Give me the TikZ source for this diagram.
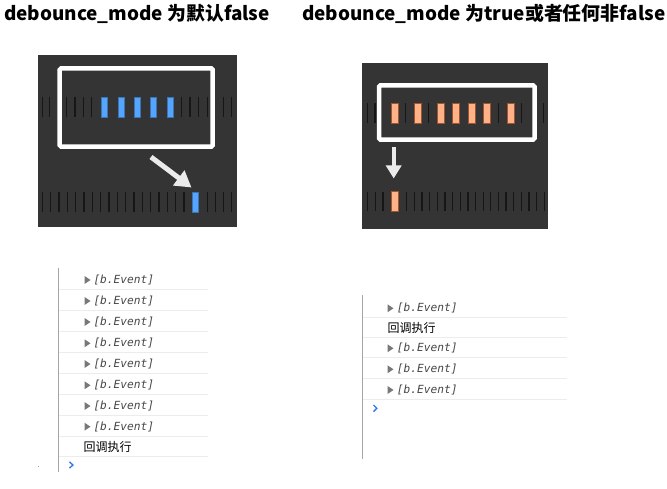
\documentclass[tikz,border=0pt]{standalone}
\usepackage{fontspec}
\usepackage{xcolor}
\usepackage{tikz}
\usetikzlibrary{arrows.meta,positioning}

\newfontfamily\cjkfont{Noto Sans CJK SC}
\newfontfamily\consolefont{DejaVu Sans Mono}

\definecolor{panelgray}{RGB}{52,52,52}
\definecolor{tickdark}{RGB}{22,22,22}
\definecolor{barblue}{RGB}{85,165,255}
\definecolor{barpeach}{RGB}{255,178,135}
\definecolor{peachedge}{RGB}{160,85,45}
\definecolor{sepgray}{RGB}{236,236,236}
\definecolor{railgray}{RGB}{165,165,165}
\definecolor{eventgray}{RGB}{70,70,70}
\definecolor{trigray}{RGB}{120,120,120}
\definecolor{promptblue}{RGB}{50,120,235}

\begin{document}
\begin{tikzpicture}[
  x=1pt,y=-1pt,
  title/.style={font=\cjkfont\bfseries\fontsize{18.9}{21}\selectfont,anchor=base west,inner sep=0pt},
  panel/.style={fill=panelgray},
  framebox/.style={draw=white,line width=4.5pt,rounded corners=1.5pt},
  tick/.style={draw=tickdark,line width=1.3pt},
  bluebar/.style={fill=barblue,draw=barblue!70!black,line width=0.5pt,minimum width=6pt,minimum height=20pt,inner sep=0pt},
  peachbar/.style={fill=barpeach,draw=peachedge,line width=0.5pt,minimum width=7pt,minimum height=20pt,inner sep=0pt},
  whitearrow/.style={draw=white!92!black,line width=4pt,-{Triangle[length=13pt,width=15pt]}},
  rail/.style={draw=railgray,line width=1.2pt},
  sep/.style={draw=sepgray,line width=1pt},
  event/.style={font=\consolefont\itshape\fontsize{11.2}{13}\selectfont,text=eventgray,anchor=west,inner sep=0pt},
  cbtext/.style={font=\cjkfont\fontsize{12}{14}\selectfont,anchor=west,inner sep=0pt},
  prompt/.style={draw=promptblue,line width=1.4pt}
]
\useasboundingbox (0,0) rectangle (667,489);
% titles
\node[title] (tleft) at (4,20.7) {debounce\_mode 为默认false};
\node[title] (tright) at (302,20.7) {debounce\_mode 为true或者任何非false};

% left timeline panel
\fill[panel] (38,55) rectangle (237,227);
\foreach \x in {42.3,49.5,66.7,75,83.3,91.7,181.7,190,198.3,207.7,223.3,231.7}
  \draw[tick] (\x,97) -- (\x,117);
\node[bluebar] (lb1) at (104.7,107) {};
\node[bluebar] (lb2) at (121,107) {};
\node[bluebar] (lb3) at (137.2,107) {};
\node[bluebar] (lb4) at (153.5,107) {};
\node[bluebar] (lb5) at (170.3,107) {};
\draw[framebox] (59.7,68.3) rectangle (212.7,146.7);
\foreach \k in {0,...,17}
  \draw[tick] (42.3+8.33*\k,192) -- (42.3+8.33*\k,212);
\foreach \x in {207.7,215.5,223.3,231.5}
  \draw[tick] (\x,192) -- (\x,212);
\node[bluebar] (lfire) at (195.3,202) {};
\coordinate (lfrom) at (151,157);
\coordinate (lto) at (191.5,187.5);
\draw[whitearrow,line width=5pt,-{Triangle[length=16pt,width=18pt]}] (lfrom) -- (lto);

% right timeline panel
\fill[panel] (362,63) rectangle (548.3,229);
\foreach \x in {367.7,375,405.7,428.3,498.3,521.7,543.3}
  \draw[tick] (\x,103.3) -- (\x,123.3);
\node[peachbar] (rb1) at (394.7,113.3) {};
\node[peachbar] (rb2) at (418,113.3) {};
\node[peachbar] (rb3) at (440.7,113.3) {};
\node[peachbar] (rb4) at (455.7,113.3) {};
\node[peachbar] (rb5) at (472,113.3) {};
\node[peachbar] (rb6) at (487,113.3) {};
\node[peachbar] (rb7) at (510.5,113.3) {};
\draw[framebox] (379,85.3) rectangle (534.5,139.7);
\foreach \x in {367.7,375.3,382.9}
  \draw[tick] (\x,191.7) -- (\x,210.7);
\foreach \k in {0,...,18}
  \draw[tick] (406.7+7.645*\k,191.7) -- (406.7+7.645*\k,210.7);
\node[peachbar] (rfire) at (394.7,201.2) {};
\coordinate (rfrom) at (393.7,147.5);
\coordinate (rto) at (393.7,178.5);
\draw[whitearrow] (rfrom) -- (rto);

% left console
\draw[rail] (58.3,268) -- (58.3,472);
\foreach \y [count=\i] in {280,301,322,343.3,364,385.3,406,426.7} {
  \fill[trigray] (84.5,\y-4) -- ++(6,4) -- ++(-6,4) -- cycle;
  \node[event] (lev\i) at (93.3,\y) {[b.Event]};
  \draw[sep] (58.9,\y+9.3) -- (208.3,\y+9.3);
}
\node[cbtext] (lcb) at (83.3,447.3) {回调执行};
\draw[sep] (58.9,456) -- (208.3,456);
\draw[prompt] (69.5,461.8) -- (72.8,465) -- (69.5,468.2);
\fill[railgray] (37.8,465.5) rectangle (38.8,466.5);

% right console
\draw[rail] (362.3,295) -- (362.3,459);
\foreach \y [count=\i] in {308.3,348.3,369.3,390} {
  \fill[trigray] (387.5,\y-4) -- ++(6,4) -- ++(-6,4) -- cycle;
  \node[event] (rev\i) at (396.7,\y) {[b.Event]};
}
\node[cbtext] (rcb) at (387.3,328.3) {回调执行};
\foreach \y in {317.3,337.3,357.7,378.3,399.3}
  \draw[sep] (362.9,\y) -- (566.7,\y);
\draw[prompt] (373.5,405) -- (376.8,408.3) -- (373.5,411.6);
\end{tikzpicture}
\end{document}
